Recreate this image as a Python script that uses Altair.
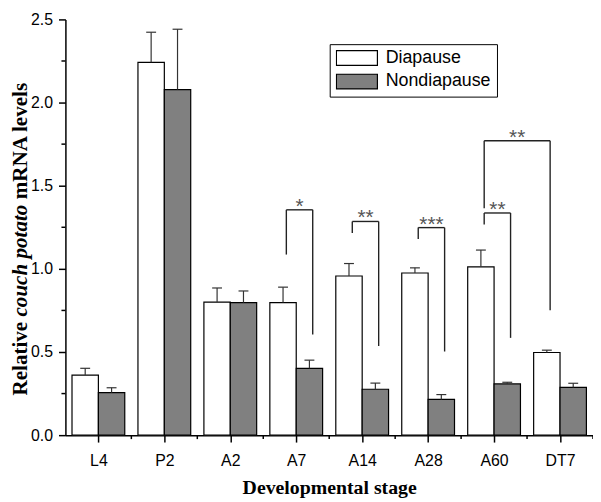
import altair as alt
import pandas as pd

# ---------------- data ----------------
stages = ["L4", "P2", "A2", "A7", "A14", "A28", "A60", "DT7"]
groups = ["Diapause", "Nondiapause"]
diapause = [0.361, 2.242, 0.800, 0.797, 0.957, 0.975, 1.012, 0.497]
diapause_err = [0.041, 0.181, 0.085, 0.093, 0.075, 0.031, 0.101, 0.014]
nondiapause = [0.256, 2.078, 0.797, 0.402, 0.276, 0.215, 0.308, 0.287]
nondiapause_err = [0.029, 0.363, 0.070, 0.049, 0.037, 0.029, 0.010, 0.025]

# significance brackets: (stage, group) -> (stage, group)
br_from = [("A7", "Diapause"), ("A14", "Diapause"), ("A28", "Diapause"),
           ("A60", "Diapause"), ("A60", "Diapause")]
br_to = [("A7", "Nondiapause"), ("A14", "Nondiapause"), ("A28", "Nondiapause"),
         ("A60", "Nondiapause"), ("DT7", "Diapause")]
br_top = [1.355, 1.285, 1.248, 1.336, 1.770]
br_left_end = [1.086, 1.215, 1.180, 1.267, 1.365]
br_right_end = [0.606, 0.536, 0.503, 0.585, 0.751]
br_label = ["*", "**", "***", "**", "**"]

y_ticks = [0.0, 0.5, 1.0, 1.5, 2.0, 2.5]
y_minor = [0.25, 0.75, 1.25, 1.75, 2.25]

# ---------------- derived tables ----------------
BAR_W = 0.4
rows = []
for g, vals, errs in [(groups[0], diapause, diapause_err), (groups[1], nondiapause, nondiapause_err)]:
    gi = groups.index(g)
    for i, s in enumerate(stages):
        x0 = i - BAR_W + BAR_W * gi
        xc = x0 + BAR_W / 2
        rows.append(dict(stage=s, group=g, value=vals[i], top=vals[i] + errs[i],
                         x0=x0, x1=x0 + BAR_W, xc=xc, cl=xc - 0.075, cr=xc + 0.075))
bars = pd.DataFrame(rows)


def center(stage, group):
    return stages.index(stage) - BAR_W / 2 + BAR_W * groups.index(group)


SHIFT = 0.05
segs, labels = [], []
for f, t, top, le, re_, lab in zip(br_from, br_to, br_top, br_left_end, br_right_end, br_label):
    xl = center(*f) + SHIFT
    xr = center(*t) + SHIFT
    segs.append(dict(xa=xl, xb=xl, ya=le, yb=top))
    segs.append(dict(xa=xl, xb=xr, ya=top, yb=top))
    segs.append(dict(xa=xr, xb=xr, ya=re_, yb=top))
    labels.append(dict(xm=(xl + xr) / 2, y=top, lab=lab))
segs = pd.DataFrame(segs)
labels = pd.DataFrame(labels)

x_minor = pd.DataFrame({"m": [i + 0.5 for i in range(len(stages))]})
y_minor_df = pd.DataFrame({"m": y_minor})

W, H = 533, 420
PAD_TOP = 9
label_expr = "[" + ",".join(f"'{s}'" for s in stages) + "][datum.value]"

xscale = alt.Scale(domain=[-0.5, len(stages) - 0.5], nice=False, zero=False)
yscale = alt.Scale(domain=[0, 2.5], nice=False)

x_axis = alt.Axis(values=list(range(len(stages))), labelExpr=label_expr,
                  title="Developmental stage", titleFont="Liberation Serif",
                  titleFontSize=20, titleFontWeight="bold", titleColor="black",
                  titleX=W / 2, titleY=59, titleAlign="center", titleBaseline="alphabetic",
                  labelFont="Liberation Sans", labelFontSize=16, labelColor="black",
                  labelPadding=11, tickSize=7, tickColor="black", tickWidth=1.5,
                  domainColor="black", domainWidth=1.5, grid=False)
y_axis = alt.Axis(values=y_ticks, format=".1f", title=None,
                  labelFont="Liberation Sans", labelFontSize=16, labelColor="black",
                  labelPadding=6, tickSize=7, tickColor="black", tickWidth=1.5,
                  domainColor="black", domainWidth=1.5, grid=False)

legend = alt.Legend(title=None, orient="none", legendX=267, legendY=42 - 8 - PAD_TOP,
                    symbolType="M-1,-0.362H1V0.362H-1Z", symbolSize=1714,
                    clipHeight=16, rowPadding=5.7, labelOffset=7.5, padding=6,
                    strokeColor="black", symbolStrokeColor="black", symbolStrokeWidth=1.2,
                    symbolOpacity=1, labelFont="Liberation Sans", labelFontSize=18,
                    labelColor="black")

bar_layer = alt.Chart(bars).mark_rect(stroke="black", strokeWidth=1.2).encode(
    x=alt.X("x0:Q", scale=xscale, axis=x_axis),
    x2="x1:Q",
    y=alt.Y("value:Q", scale=yscale, axis=y_axis),
    y2=alt.datum(0),
    fill=alt.Fill("group:N", scale=alt.Scale(domain=groups, range=["white", "#808080"]),
                  legend=legend),
)

stem = alt.Chart(bars).mark_rule(color="#333333", strokeWidth=1.2).encode(
    x=alt.X("xc:Q", scale=xscale), y=alt.Y("value:Q", scale=yscale), y2="top:Q")
cap = alt.Chart(bars).mark_rule(color="#333333", strokeWidth=1.2).encode(
    x=alt.X("cl:Q", scale=xscale), x2="cr:Q", y=alt.Y("top:Q", scale=yscale))

bracket = alt.Chart(segs).mark_rule(color="#222222", strokeWidth=1.4).encode(
    x=alt.X("xa:Q", scale=xscale), x2="xb:Q",
    y=alt.Y("ya:Q", scale=yscale), y2="yb:Q")
stars = alt.Chart(labels).mark_text(font="Liberation Sans", fontSize=21, color="#555555",
                                    baseline="alphabetic", align="center", dy=3).encode(
    x=alt.X("xm:Q", scale=xscale), y=alt.Y("y:Q", scale=yscale), text="lab:N")

xminor = alt.Chart(x_minor).mark_rule(color="black", strokeWidth=1.5).encode(
    x=alt.X("m:Q", scale=xscale), y=alt.value(H), y2=alt.value(H + 4))
yminor = alt.Chart(y_minor_df).mark_rule(color="black", strokeWidth=1.5).encode(
    y=alt.Y("m:Q", scale=yscale), x=alt.value(0), x2=alt.value(-4))

# y title with italic gene name (pieces placed one after another, reading upward)
YT_FS = 21.3
YT_X = -38.5
YT_Y = 397 - 8 - PAD_TOP
w1 = 3.749 * YT_FS          # "Relative " (bold)
w2 = 5.306 * YT_FS          # "couch potato" (bold italic)
wsp = 0.25 * YT_FS          # space before "mRNA"


def ytext(txt, y, style):
    return alt.Chart(alt.Data(values=[{"t": txt}])).mark_text(
        font="Liberation Serif", fontSize=YT_FS, fontWeight="bold", fontStyle=style,
        angle=270, align="left", baseline="alphabetic", color="black").encode(
        x=alt.value(YT_X), y=alt.value(y), text="t:N")


yt1 = ytext("Relative", YT_Y, "normal")
yt2 = ytext("couch potato", YT_Y - w1, "italic")
yt3 = ytext("mRNA levels", YT_Y - w1 - w2 - wsp, "normal")

chart = alt.layer(bar_layer, stem, cap, bracket, stars, xminor, yminor, yt1, yt2, yt3).properties(
    width=W, height=H,
    autosize=alt.AutoSizeParams(type="none"),
    padding={"left": 58, "top": PAD_TOP, "right": 0, "bottom": 494 - PAD_TOP - H},
).configure_view(stroke="transparent").configure_axis(grid=False)

chart.save("out.html", embed_options={"renderer": "svg", "actions": False})
